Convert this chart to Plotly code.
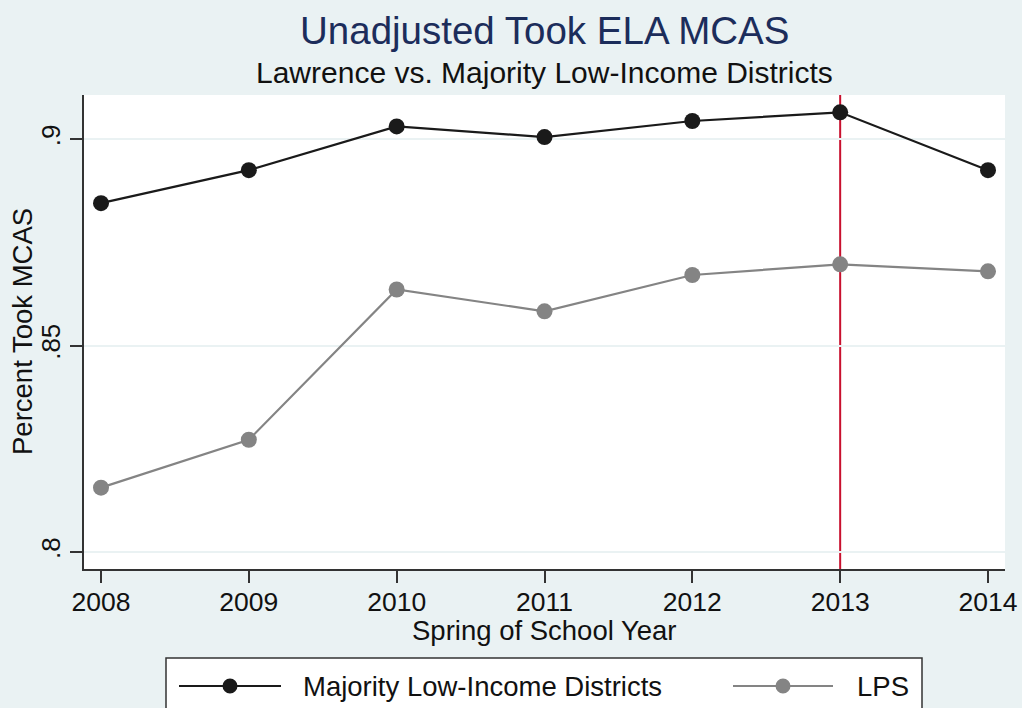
import plotly.graph_objects as go

years = [2008, 2009, 2010, 2011, 2012, 2013, 2014]
majority_low_income = [0.8845, 0.8925, 0.9031, 0.9005, 0.9044, 0.9065, 0.8925]
lps = [0.8156, 0.8272, 0.8636, 0.8583, 0.8671, 0.8697, 0.8680]
ytick_vals = [0.80, 0.85, 0.90]
ytick_text = [".8", ".85", ".9"]
series_names = ["Majority Low-Income Districts", "LPS"]
policy_year = 2013

W, H = 1022, 708
L, R, T, B = 84, 17, 95, 139
BG = "#EAF2F3"
FONT = "Liberation Sans, Arial, Helvetica, sans-serif"
BLACK = "#1a1a1a"
GRAY = "#848484"
RED = "#c8102e"
TXT = "#111111"

pw = W - L - R
ph = H - T - B


def px_x(px):
    return (px - L) / pw


def px_y(py):
    return (H - B - py) / ph


fig = go.Figure()
fig.add_trace(go.Scatter(
    x=years, y=majority_low_income, mode="lines+markers", name=series_names[0],
    line=dict(color=BLACK, width=2.2), marker=dict(color=BLACK, size=16),
    showlegend=False))
fig.add_trace(go.Scatter(
    x=years, y=lps, mode="lines+markers", name=series_names[1],
    line=dict(color=GRAY, width=2.2), marker=dict(color=GRAY, size=16),
    showlegend=False))

shapes = []
annotations = []

# vertical reference line at the policy year
shapes.append(dict(type="line", xref="x", yref="paper",
                   x0=policy_year, x1=policy_year, y0=0, y1=1,
                   line=dict(color=RED, width=2), layer="below"))

# custom legend (box, sample lines, markers, labels)
shapes.append(dict(type="rect", xref="paper", yref="paper",
                   x0=px_x(166), x1=px_x(922), y0=px_y(730), y1=px_y(658),
                   line=dict(color="#333333", width=1.5), fillcolor="white",
                   layer="above"))
legend_items = [(series_names[0], BLACK, 179, 281, 303),
                (series_names[1], GRAY, 733, 833, 857)]
for name, col, lx0, lx1, tx in legend_items:
    ly = px_y(686)
    shapes.append(dict(type="line", xref="paper", yref="paper",
                       x0=px_x(lx0), x1=px_x(lx1), y0=ly, y1=ly,
                       line=dict(color=col, width=2.2), layer="above"))
    cx = (lx0 + lx1) / 2
    shapes.append(dict(type="circle", xref="paper", yref="paper",
                       x0=px_x(cx - 7.5), x1=px_x(cx + 7.5),
                       y0=px_y(686 + 7.5), y1=px_y(686 - 7.5),
                       fillcolor=col, line=dict(color=col, width=0), layer="above"))
    annotations.append(dict(text=name, xref="paper", yref="paper",
                            x=px_x(tx - 2), y=ly, xanchor="left", yanchor="middle",
                            showarrow=False,
                            font=dict(family=FONT, size=27.5, color=TXT)))

annotations.append(dict(text="Unadjusted Took ELA MCAS", xref="paper", yref="paper",
                        x=0.5, y=px_y(30), xanchor="center", yanchor="middle",
                        showarrow=False,
                        font=dict(family=FONT, size=38.5, color="#1C2D5B")))
annotations.append(dict(text="Lawrence vs. Majority Low-Income Districts",
                        xref="paper", yref="paper",
                        x=0.5, y=px_y(73), xanchor="center", yanchor="middle",
                        showarrow=False,
                        font=dict(family=FONT, size=30, color=TXT)))
# axis titles
annotations.append(dict(text="Spring of School Year", xref="paper", yref="paper",
                        x=0.5, y=px_y(630), xanchor="center", yanchor="middle",
                        showarrow=False, font=dict(family=FONT, size=27.5, color=TXT)))
annotations.append(dict(text="Percent Took MCAS", xref="paper", yref="paper",
                        x=px_x(22), y=0.5, xanchor="center", yanchor="middle",
                        textangle=-90, showarrow=False,
                        font=dict(family=FONT, size=27.5, color=TXT)))

fig.update_layout(
    width=W, height=H,
    margin=dict(l=L, r=R, t=T, b=B, pad=0, autoexpand=False),
    paper_bgcolor=BG, plot_bgcolor="white",
    font=dict(family=FONT, color=TXT),
    shapes=shapes, annotations=annotations,
    showlegend=False,
)
fig.update_xaxes(
    range=[2007.885, 2014.115], tickvals=years, ticktext=[str(y) for y in years],
    showgrid=False, zeroline=False, automargin=False,
    showline=True, linecolor="#333333", linewidth=1.5,
    ticks="outside", ticklen=12, tickwidth=1.5, tickcolor="#333333",
    tickfont=dict(size=26.5, family=FONT, color=TXT),
    ticklabelstandoff=-4,
)
fig.update_yaxes(
    range=[0.7959, 0.9107], tickvals=ytick_vals, ticktext=ytick_text, tickangle=-90,
    showgrid=True, gridcolor=BG, gridwidth=1.5, zeroline=False, automargin=False,
    showline=True, linecolor="#333333", linewidth=1.5,
    ticks="outside", ticklen=12, tickwidth=1.5, tickcolor="#333333",
    tickfont=dict(size=26, family=FONT, color=TXT),
)

fig.write_html("out.html", config={"displayModeBar": False},
               post_script="document.body.style.margin='0';document.body.style.overflow='hidden';")
